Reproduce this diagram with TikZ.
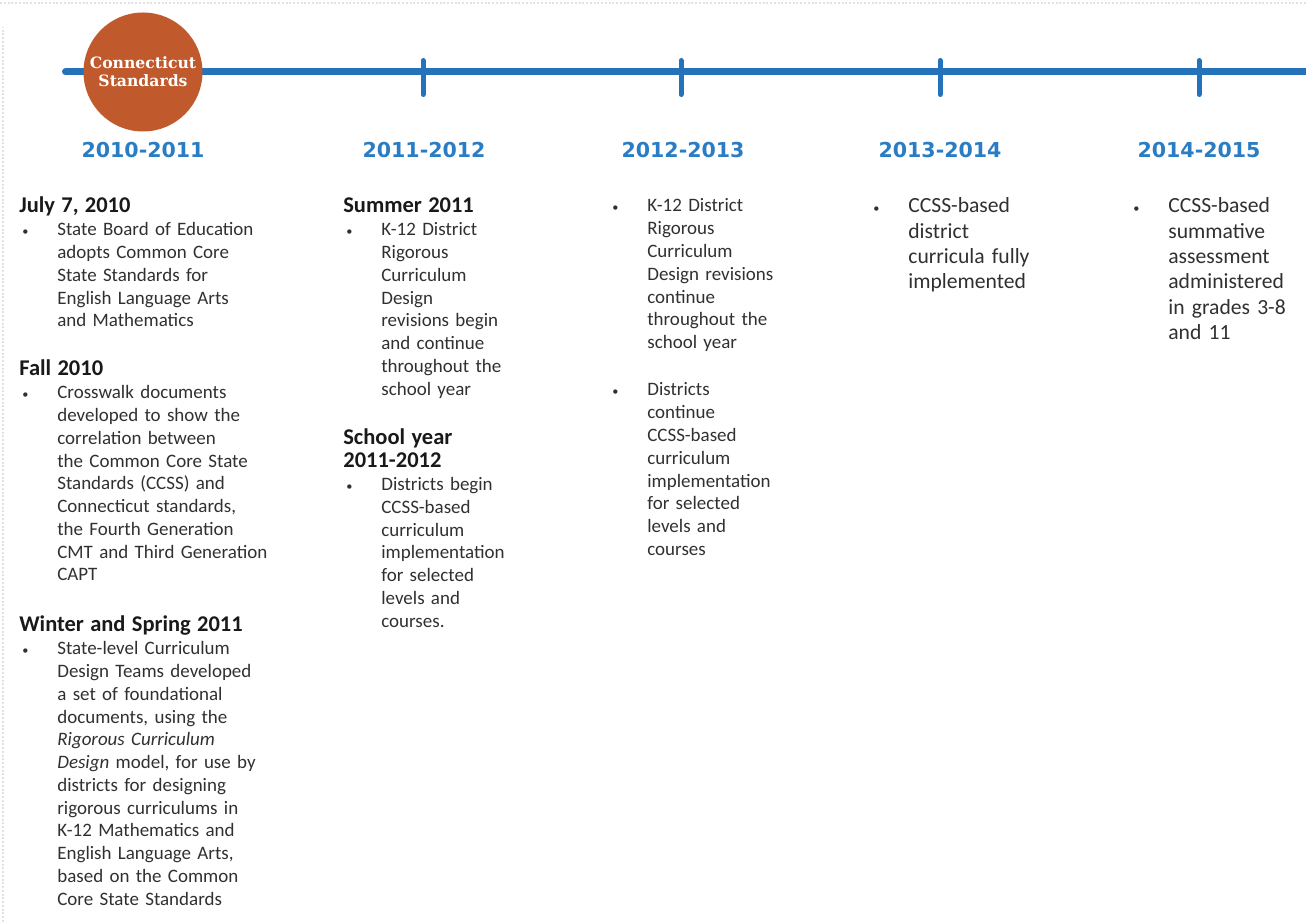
\documentclass[tikz,border=0pt]{standalone}
\usepackage{fontspec}
\setmainfont{Carlito}
\newfontfamily\yearfont{DejaVu Sans}
\newfontfamily\badgefont{DejaVu Serif}

\definecolor{lineblue}{HTML}{2372BA}
\definecolor{yearblue}{HTML}{2A7DC4}
\definecolor{badgeorange}{HTML}{C0592C}
\definecolor{txtgray}{HTML}{303030}
\definecolor{edgegray}{HTML}{E2E2E2}

% heading and bullet of an entry
\newcommand{\hd}{\fontsize{12.8}{12.95}\selectfont\bfseries\color{black!90}}
\newcommand{\itm}{\leftskip=0.760000cm\noindent\llap{\makebox[0.760000cm][l]{\hspace{0.060000cm}{\scriptsize •}}}}

\tikzset{
  timeline/.style={line width=0.140000cm, lineblue, line cap=round},
  tick/.style={line width=0.100000cm, lineblue, line cap=round},
  badge/.style={circle, fill=badgeorange, text=white, minimum size=2.380000cm, inner sep=0pt,
    align=center, font=\badgefont\bfseries\fontsize{8.9}{10.4}\selectfont},
  yearlabel/.style={text=yearblue, inner sep=0pt, font=\yearfont\bfseries\fontsize{11.7}{14}\selectfont},
  entry/.style={anchor=base west, inner sep=0pt, text width=6.000000cm, align=left, text=txtgray,
    font=\fontsize{10.8}{12.95}\selectfont},
  bigentry/.style={entry, font=\fontsize{12.3}{14.4}\selectfont},
  pageedge/.style={edgegray, line width=0.040000cm, densely dotted}
}

\begin{document}
\begin{tikzpicture}
\useasboundingbox (0.000000,0.000000) rectangle (26.120000,18.440000);%

% Drawing page edge
\draw [pageedge] (0.000000,18.380000) -- (26.120000,18.380000);%
\draw [pageedge] (0.060000,0.000000) -- (0.060000,17.900000);%

% Drawing timeline
\coordinate (tlstart) at (1.310000,17.000000);%
\coordinate (tlend) at (26.200000,17.000000);%
\draw [timeline] (tlstart) -- (tlend);%

% Drawing ticks
\draw [tick] (8.460000,17.230000) -- (8.460000,16.550000);%
\draw [tick] (13.620000,17.230000) -- (13.620000,16.550000);%
\draw [tick] (18.800000,17.230000) -- (18.800000,16.550000);%
\draw [tick] (23.980000,17.230000) -- (23.980000,16.550000);%

% Marking start by circle
\node [badge] (ctstd) at (2.860000,17.000000) {Connecticut\\Standards};%

% Marking years
\node [yearlabel] (y1011) at (2.860000,15.440000) {2010-2011};%
\node [yearlabel] (y1112) at (8.480000,15.440000) {2011-2012};%
\node [yearlabel] (y1213) at (13.660000,15.440000) {2012-2013};%
\node [yearlabel] (y1314) at (18.800000,15.440000) {2013-2014};%
\node [yearlabel] (y1415) at (23.980000,15.440000) {2014-2015};%

% Entries 2010-2011
\node [entry] (jul) at (0.380000,14.180000) {{\hd July 7, 2010}\par\itm State Board of Education\\ adopts Common Core\\ State Standards for\\ English Language Arts\\ and Mathematics\par};%
\node [entry] (fall) at (0.380000,10.920000) {{\hd Fall 2010}\par\itm Crosswalk documents\\ developed to show the\\ correlation between\\ the Common Core State\\ Standards (CCSS) and\\ Connecticut standards,\\ the Fourth Generation\\ CMT and Third Generation\\ CAPT\par};%
\node [entry] (winter) at (0.380000,5.800000) {{\hd Winter and Spring 2011}\par\itm State-level Curriculum\\ Design Teams developed\\ a set of foundational\\ documents, using the\\ \textit{Rigorous Curriculum}\\ \textit{Design} model, for use by\\ districts for designing\\ rigorous curriculums in\\ K-12 Mathematics and\\ English Language Arts,\\ based on the Common\\ Core State Standards\par};%

% Entries 2011-2012
\node [entry] (summer) at (6.860000,14.180000) {{\hd Summer 2011}\par\itm K-12 District\\ Rigorous\\ Curriculum\\ Design\\ revisions begin\\ and continue\\ throughout the\\ school year\par};%
\node [entry] (schoolyr) at (6.860000,9.540000) {{\hd School year\\ 2011-2012}\par\itm Districts begin\\ CCSS-based\\ curriculum\\ implementation\\ for selected\\ levels and\\ courses.\par};%

% Entries 2012-2013
\node [entry] (revise) at (12.180000,14.200000) {\itm K-12 District\\ Rigorous\\ Curriculum\\ Design revisions\\ continue\\ throughout the\\ school year\par};%
\node [entry] (contin) at (12.180000,10.520000) {\itm Districts\\ continue\\ CCSS-based\\ curriculum\\ implementation\\ for selected\\ levels and\\ courses\par};%

% Entries 2013-2014 and 2014-2015
\node [bigentry] (implem) at (17.400000,14.180000) {\itm CCSS-based\\ district\\ curricula fully\\ implemented\par};%
\node [bigentry] (assess) at (22.600000,14.180000) {\itm CCSS-based\\ summative\\ assessment\\ administered\\ in grades 3-8\\ and 11\par};%
\end{tikzpicture}
\end{document}
